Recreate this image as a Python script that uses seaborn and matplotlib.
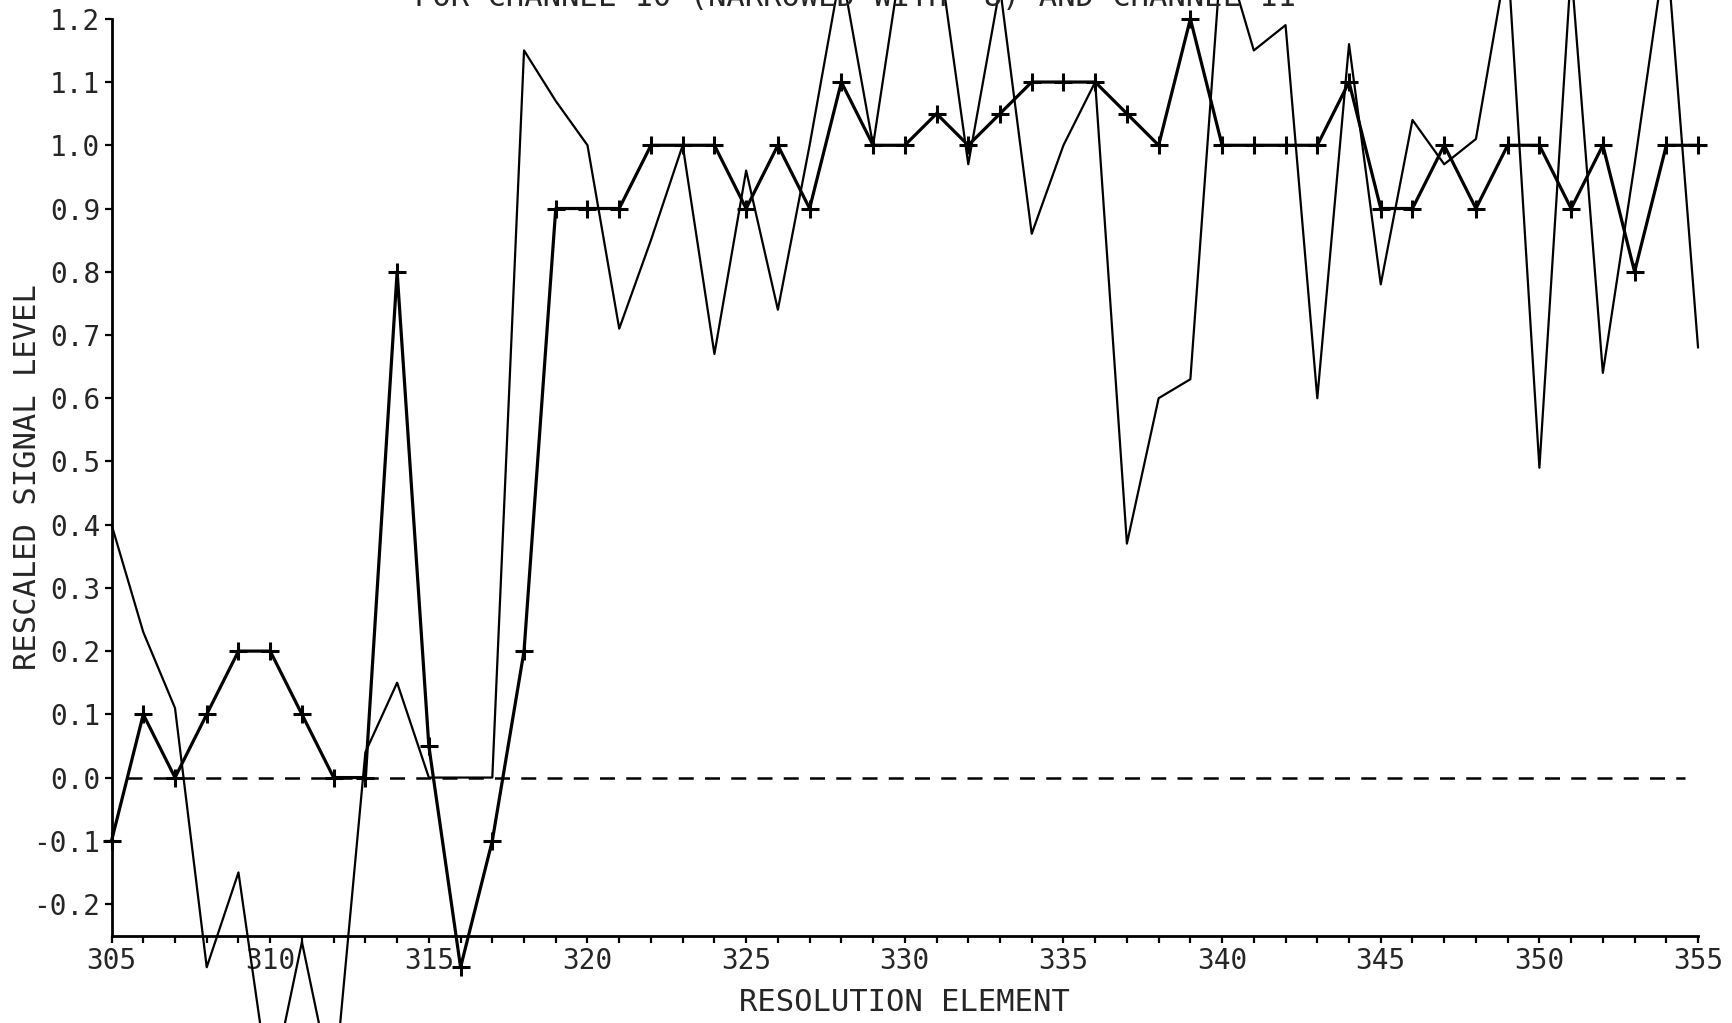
import numpy as np
import pandas as pd
import seaborn as sns
import matplotlib.pyplot as plt
from matplotlib.ticker import FormatStrFormatter

# Data
elements = list(range(305, 356))

# channel with "+" markers
signal_marked = [
    -0.1, 0.1, 0.0, 0.1, 0.2, 0.2, 0.1, 0.0, 0.0, 0.8,
    0.05, -0.3, -0.1, 0.2, 0.9, 0.9, 0.9, 1.0, 1.0, 1.0,
    0.9, 1.0, 0.9, 1.1, 1.0, 1.0, 1.05, 1.0, 1.05, 1.1,
    1.1, 1.1, 1.05, 1.0, 1.2, 1.0, 1.0, 1.0, 1.0, 1.1,
    0.9, 0.9, 1.0, 0.9, 1.0, 1.0, 0.9, 1.0, 0.8, 1.0,
    1.0,
]

# channel drawn as plain thin line
signal_plain = [
    0.40, 0.23, 0.11, -0.30, -0.15, -0.50, -0.26, -0.50, 0.04, 0.15,
    0.0, 0.0, 0.0, 1.15, 1.07, 1.00, 0.71, 0.85, 1.00, 0.67,
    0.96, 0.74, 1.00, 1.28, 1.00, 1.33, 1.33, 0.97, 1.25, 0.86,
    1.00, 1.10, 0.37, 0.60, 0.63, 1.32, 1.15, 1.19, 0.60, 1.16,
    0.78, 1.04, 0.97, 1.01, 1.30, 0.49, 1.28, 0.64, 0.97, 1.32,
    0.68,
]

major_x = list(range(305, 356, 5))
y_ticks = [round(i * 0.1, 1) for i in range(-2, 13)]

title = "FOR CHANNEL 10 (NARROWED WITH  8) AND CHANNEL 11"

df = pd.DataFrame({"element": elements,
                   "marked": signal_marked,
                   "plain": signal_plain})

sns.set_style("ticks")
plt.rcParams["font.family"] = ["DejaVu Sans Mono", "DejaVu Sans"]

fig = plt.figure(figsize=(17.32, 10.23), dpi=100)
ax = fig.add_axes([0.0644, 0.0854, 0.916, 0.8962])

sns.lineplot(data=df, x="element", y="plain", ax=ax, color="k",
             lw=1.6, clip_on=False, zorder=3)
sns.lineplot(data=df, x="element", y="marked", ax=ax, color="k",
             lw=2.3, marker="+", markersize=13, mec="k", mew=2.2,
             clip_on=False, zorder=4)

# zero reference
ax.axhline(0, xmin=0.01, xmax=0.992, color="k", lw=1.8,
           ls=(0, (6, 4.5)), zorder=2)

ax.set_xlim(305, 355)
ax.set_ylim(-0.25, 1.2)
ax.set_xticks(major_x)
ax.set_xticks(elements, minor=True)
ax.set_yticks(y_ticks)
ax.yaxis.set_major_formatter(FormatStrFormatter("%.1f"))

sns.despine(ax=ax)
for side in ["left", "bottom"]:
    ax.spines[side].set_linewidth(2)
    ax.spines[side].set_color("k")

ax.tick_params(axis="both", which="both", direction="out", color="k",
               width=1.6, length=5, labelsize=20, pad=3)

ax.set_xlabel("RESOLUTION ELEMENT", fontsize=22)
ax.set_ylabel("RESCALED SIGNAL LEVEL", fontsize=22)
ax.xaxis.set_label_coords(0.5, -0.057)
ax.yaxis.set_label_coords(-0.044, 0.5)

# title is cut off by the top edge in the original scan
fig.text(0.4936, 0.9945, title, ha="center", va="baseline", fontsize=22)

fig.savefig("out.png", dpi=100)
